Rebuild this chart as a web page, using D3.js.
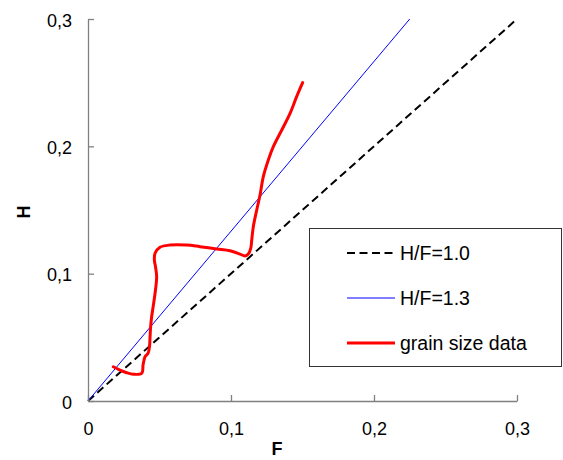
<!DOCTYPE html>
<html>
<head>
<meta charset="utf-8">
<script src="https://cdn.jsdelivr.net/npm/d3@7"></script>
<style>
  html, body { margin: 0; padding: 0; background: #fff; }
  svg { display: block; font-family: Arial, "Liberation Sans", sans-serif; }
</style>
</head>
<body>
<svg id="chart" width="563" height="460"></svg>
<script>
// ---- data ----
const xTicks = [0, 0.1, 0.2, 0.3];
const yTicks = [0, 0.1, 0.2, 0.3];
const tickLabels = ["0", "0,1", "0,2", "0,3"];
const ratio10F = [0, 0.3];
const ratio10H = [0, 0.3];
const ratio13F = [0, 0.225];
const ratio13H = [0, 0.3];
const grainF = [0.0177, 0.0224, 0.0271, 0.0317, 0.0376, 0.0385, 0.0392, 0.0399, 0.0420, 0.0430, 0.0434, 0.0438, 0.0444, 0.0452, 0.0469, 0.0480, 0.0472, 0.0464, 0.0469, 0.0503, 0.0573, 0.0690, 0.0783, 0.0900, 0.0993, 0.1063, 0.1098, 0.1121, 0.1138, 0.1145, 0.1156, 0.1180, 0.1203, 0.1226, 0.1261, 0.1296, 0.1355, 0.1413, 0.1459, 0.1501];
const grainH = [0.0269, 0.0243, 0.0222, 0.0210, 0.0218, 0.0283, 0.0322, 0.0348, 0.0375, 0.0426, 0.0505, 0.0584, 0.0652, 0.0715, 0.0846, 0.0976, 0.1055, 0.1107, 0.1160, 0.1207, 0.1225, 0.1225, 0.1212, 0.1194, 0.1180, 0.1154, 0.1139, 0.1154, 0.1199, 0.1264, 0.1369, 0.1500, 0.1618, 0.1762, 0.1893, 0.1997, 0.2128, 0.2259, 0.2390, 0.2500];
const legendLabels = ["H/F=1.0", "H/F=1.3", "grain size data"];

// ---- chart ----
const svg = d3.select("#chart");
const x = d3.scaleLinear().domain([0, 0.3]).range([88, 517]);
const y = d3.scaleLinear().domain([0, 0.3]).range([401, 19]);
const fmt = (d, i) => tickLabels[i];

const line = d3.line().x(d => x(d[0])).y(d => y(d[1]));
const smooth = d3.line().x(d => x(d[0])).y(d => y(d[1])).curve(d3.curveCatmullRom.alpha(0.5));

// series
svg.append("path")
  .attr("d", line(ratio10F.map((f, i) => [f, ratio10H[i]])))
  .attr("fill", "none").attr("stroke", "#000").attr("stroke-width", 2)
  .attr("stroke-dasharray", "8,4.5");
svg.append("path")
  .attr("d", line(ratio13F.map((f, i) => [f, ratio13H[i]])))
  .attr("fill", "none").attr("stroke", "#0000ff").attr("stroke-width", 1);
svg.append("path")
  .attr("d", smooth(grainF.map((f, i) => [f, grainH[i]])))
  .attr("fill", "none").attr("stroke", "#ff0000").attr("stroke-width", 3)
  .attr("stroke-linejoin", "round").attr("stroke-linecap", "round");

// axes
const xAxis = d3.axisBottom(x).tickValues(xTicks).tickFormat(fmt).tickSizeInner(-6).tickSizeOuter(0).tickPadding(21);
const yAxis = d3.axisLeft(y).tickValues(yTicks).tickFormat(fmt).tickSizeInner(-6).tickSizeOuter(0).tickPadding(16);

const gx = svg.append("g").attr("transform", `translate(0,${y(0)})`).call(xAxis);
const gy = svg.append("g").attr("transform", `translate(${x(0)},0)`).call(yAxis);
[gx, gy].forEach(g => {
  g.select(".domain").attr("stroke", "#808080").attr("stroke-width", 1.3);
  g.selectAll(".tick line").attr("stroke", "#808080").attr("stroke-width", 1.3);
  g.selectAll(".tick text").attr("fill", "#000").style("font-size", "18px")
    .style("font-family", "Arial, 'Liberation Sans', sans-serif");
});
gy.selectAll(".tick text").attr("dy", "0.4em");

// axis titles
svg.append("text").attr("x", 277).attr("y", 455).attr("text-anchor", "middle")
  .style("font-size", "18px").style("font-weight", "bold").text("F");
svg.append("text").attr("transform", "translate(30,212) rotate(-90)").attr("text-anchor", "middle")
  .style("font-size", "18px").style("font-weight", "bold").text("H");

// legend
const lg = svg.append("g");
lg.append("rect").attr("x", 309.5).attr("y", 228.5).attr("width", 252).attr("height", 138)
  .attr("fill", "#fff").attr("stroke", "#333").attr("stroke-width", 1);
const legStyles = [
  { stroke: "#000", w: 2, dash: "8,4.5" },
  { stroke: "#0000ff", w: 1, dash: null },
  { stroke: "#ff0000", w: 3, dash: null }
];
const rowY = [253, 298, 343];
legendLabels.forEach((lab, i) => {
  const s = legStyles[i];
  lg.append("line").attr("x1", 347).attr("x2", 395).attr("y1", rowY[i]).attr("y2", rowY[i])
    .attr("stroke", s.stroke).attr("stroke-width", s.w).attr("stroke-dasharray", s.dash);
  lg.append("text").attr("x", 400).attr("y", rowY[i]).attr("dy", "0.36em")
    .style("font-size", "19.5px").attr("fill", "#000").text(lab);
});
</script>
</body>
</html>
